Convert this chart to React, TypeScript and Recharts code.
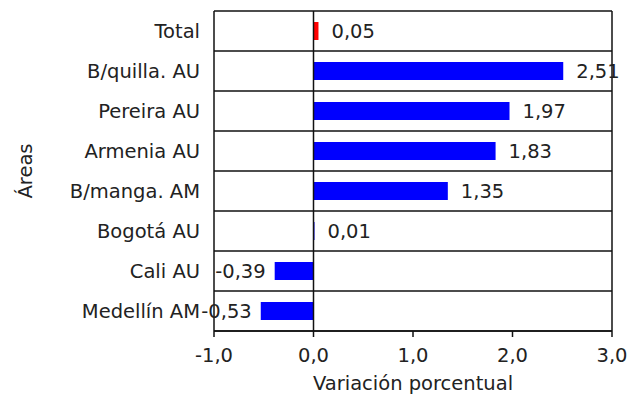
import { BarChart, Bar, XAxis, YAxis, CartesianGrid, ReferenceLine, LabelList, Cell, Label } from "recharts";

const areas = ["Total", "B/quilla. AU", "Pereira AU", "Armenia AU", "B/manga. AM", "Bogotá AU", "Cali AU", "Medellín AM"];
const variacion = [0.05, 2.51, 1.97, 1.83, 1.35, 0.01, -0.39, -0.53];
const xTicks = [-1, 0, 1, 2, 3];

const data = areas.map((area, i) => ({ area, valor: variacion[i] }));

const font = "DejaVu Sans, Verdana, sans-serif";
const fs = 19.5;
const fmt = (v: number, d: number) => v.toFixed(d).replace(".", ",");

function ValueLabel(props: any) {
  const { x, y, width, height, value } = props;
  const neg = value < 0;
  return (
    <text
      x={neg ? Math.min(x, x + width) - 9 : Math.max(x, x + width) + 13}
      y={y + height / 2}
      dy="0.36em"
      textAnchor={neg ? "end" : "start"}
      fontSize={fs}
      fontFamily={font}
      fill="#222"
    >
      {fmt(value, 2)}
    </text>
  );
}

// grid lines sit on the row borders, not on the category centres
const rowBorders = ({ offset }: any) =>
  Array.from({ length: areas.length + 1 }, (_, k) => offset.top + (k * offset.height) / areas.length);

export default function App() {
  return (
    <BarChart
      width={630}
      height={389}
      data={data}
      layout="vertical"
      margin={{ top: 3, right: 26, bottom: 4, left: 0 }}
      barSize={18}
    >
      <CartesianGrid
        vertical={false}
        horizontalCoordinatesGenerator={rowBorders}
        stroke="#111"
        strokeWidth={1.5}
      />
      <XAxis
        type="number"
        dataKey="valor"
        domain={[-1, 3]}
        ticks={xTicks}
        tickFormatter={(v: number) => fmt(v, 1)}
        allowDataOverflow
        height={62}
        stroke="#111"
        strokeWidth={1.5}
        tickSize={6}
        tickMargin={11}
        tick={{ fontSize: fs, fontFamily: font, fill: "#222" }}
      >
        <Label value="Variación porcentual" position="insideBottom" offset={3} fontSize={fs} fontFamily={font} fill="#222" />
      </XAxis>
      <YAxis
        type="category"
        dataKey="area"
        width={206}
        axisLine={false}
        tickLine={false}
        tickSize={0}
        tickMargin={14}
        tick={{ fontSize: fs, fontFamily: font, fill: "#222" }}
      >
        <Label
          value="Áreas"
          angle={-90}
          position="insideLeft"
          offset={17}
          textAnchor="middle"
          fontSize={fs}
          fontFamily={font}
          fill="#222"
        />
      </YAxis>
      <ReferenceLine x={-1} stroke="#111" strokeWidth={1.5} />
      <ReferenceLine x={3} stroke="#111" strokeWidth={1.5} />
      <Bar dataKey="valor" isAnimationActive={false}>
        {data.map((d, i) => (
          <Cell key={d.area} fill={i === 0 ? "#ff0000" : "#0000ff"} />
        ))}
        <LabelList dataKey="valor" content={<ValueLabel />} />
      </Bar>
      <ReferenceLine x={0} stroke="#111" strokeWidth={1.5} />
    </BarChart>
  );
}
